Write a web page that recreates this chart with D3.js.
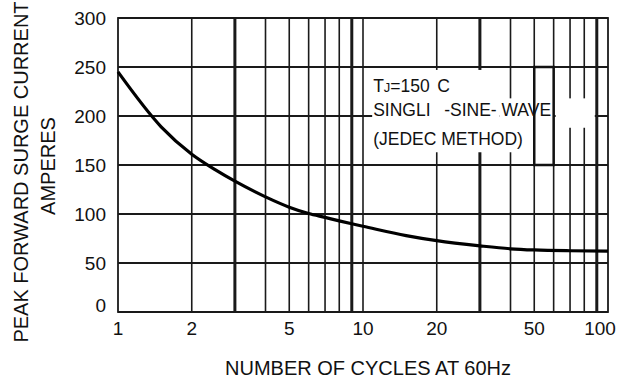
<!DOCTYPE html>
<html>
<head>
<meta charset="utf-8">
<script src="https://cdn.jsdelivr.net/npm/d3@7/dist/d3.min.js"></script>
<style>
body { margin: 0; background: #fff; }
text { font-family: "Liberation Sans", Arial, sans-serif; fill: #111; }
</style>
</head>
<body>
<div class="central"></div>
<script>
//Width and height of chart
var width = 629,
	height = 383;

//Curve (cycles -> peak amps)
var cycles = [1, 1.5, 2, 2.5, 3, 4, 5, 6, 7, 8, 9, 10, 15, 20, 30, 40, 50, 70, 100];
var surge = [245, 189, 161, 145, 133.5, 117.5, 107, 100.5, 96.5, 93, 90, 87.5, 78, 72.8, 67.5, 64.5, 63.3, 62.5, 62.2];

//Axis ticks and grid
var xTicks = [1, 2, 5, 10, 20, 50, 100];
var xGrid = [2, 3, 4, 5, 6, 7, 8, 9, 10, 20, 30, 40, 50, 60, 70, 80, 90];
var xHeavy = [3, 9, 30, 90];
var yTicks = [0, 50, 100, 150, 200, 250, 300];

var x = d3.scaleLog()
			.domain([1, 100])
			.range([118, 608]);

var y = d3.scaleLinear()
			.domain([0, 300])
			.range([312, 18]);

var svg = d3.select(".central")
			.append("svg")
			.attr("width", width)
			.attr("height", height);

//Grid lines
svg.selectAll(".hgrid")
	.data(yTicks)
	.enter()
	.append("line")
	.attr("class", "hgrid")
	.attr("x1", x(1))
	.attr("x2", x(100))
	.attr("y1", function(d){ return y(d); })
	.attr("y2", function(d){ return y(d); })
	.style("stroke", "#1a1a1a")
	.style("stroke-width", 1.8);

svg.selectAll(".vgrid")
	.data(xGrid)
	.enter()
	.append("line")
	.attr("class", "vgrid")
	.attr("x1", function(d){ return x(d); })
	.attr("x2", function(d){ return x(d); })
	.attr("y1", y(0))
	.attr("y2", y(300))
	.style("stroke", "#1a1a1a")
	.style("stroke-width", function(d){
		return xHeavy.indexOf(d) >= 0 ? 3 : 1.6;
	});

//Frame
svg.append("rect")
	.attr("x", x(1))
	.attr("y", y(300))
	.attr("width", x(100) - x(1))
	.attr("height", y(0) - y(300))
	.style("fill", "none")
	.style("stroke", "#1a1a1a")
	.style("stroke-width", 1.8);

//White patches behind the note (the scan erased the grid there)
svg.append("rect")
	.attr("x", x(10.9))
	.attr("y", y(247))
	.attr("width", x(36) - x(10.9))
	.attr("height", y(163) - y(247))
	.style("fill", "#fff");
svg.append("rect")
	.attr("x", x(36))
	.attr("y", y(218))
	.attr("width", x(50) - x(36) - 1)
	.attr("height", y(163) - y(218))
	.style("fill", "#fff");
svg.append("rect")
	.attr("x", x(60) + 2)
	.attr("y", y(218))
	.attr("width", x(90) - x(60) - 4)
	.attr("height", y(188) - y(218))
	.style("fill", "#fff");
svg.append("rect")
	.attr("x", x(50))
	.attr("y", y(250))
	.attr("width", x(60) - x(50))
	.attr("height", y(150) - y(250))
	.style("fill", "#fff")
	.style("stroke", "#111")
	.style("stroke-width", 2.5);

//Curve
var line = d3.line()
			.x(function(d){ return x(d[0]); })
			.y(function(d){ return y(d[1]); })
			.curve(d3.curveMonotoneX);

svg.append("path")
	.datum(d3.zip(cycles, surge))
	.attr("d", line)
	.style("fill", "none")
	.style("stroke", "#000")
	.style("stroke-width", 3.2);

//Tick labels
svg.selectAll(".xLabel")
	.data(xTicks)
	.enter()
	.append("text")
	.attr("class", "xLabel")
	.attr("x", function(d){ return x(d); })
	.attr("y", 335)
	.attr("text-anchor", "middle")
	.attr("dx", function(d){ return d == 100 ? "-8" : "0"; })
	.style("font-size", "19px")
	.text(function(d){ return d; });

svg.selectAll(".yLabel")
	.data(yTicks)
	.enter()
	.append("text")
	.attr("class", "yLabel")
	.attr("x", 106)
	.attr("y", function(d){ return y(d); })
	.attr("dy", function(d){ return d == 0 ? "0" : "0.35em"; })
	.attr("text-anchor", "end")
	.style("font-size", "19px")
	.text(function(d){ return d; });

//Axis titles
svg.append("text")
	.attr("x", 368)
	.attr("y", 375)
	.attr("text-anchor", "middle")
	.style("font-size", "20px")
	.text("NUMBER OF CYCLES AT 60Hz");

svg.append("text")
	.attr("transform", "translate(28,172) rotate(-90)")
	.attr("text-anchor", "middle")
	.style("font-size", "20px")
	.text("PEAK FORWARD SURGE CURRENT");

svg.append("text")
	.attr("transform", "translate(55,166) rotate(-90)")
	.attr("text-anchor", "middle")
	.style("font-size", "20px")
	.text("AMPERES");

//Note
var noteX = x(11);
var t1 = svg.append("text")
	.attr("x", noteX)
	.attr("y", y(225))
	.style("font-size", "17.5px");
t1.append("tspan").text("T");
t1.append("tspan").style("font-size", "13px").text("J");
t1.append("tspan").text("=150");
svg.append("text")
	.attr("x", noteX + 64)
	.attr("y", y(225))
	.style("font-size", "17.5px")
	.text("C");

svg.append("text")
	.attr("x", noteX)
	.attr("y", y(200))
	.style("font-size", "17.5px")
	.text("SINGLI");
svg.append("text")
	.attr("x", noteX + 71)
	.attr("y", y(200))
	.style("font-size", "17.5px")
	.text("-SINE- WAVE");

svg.append("text")
	.attr("x", noteX)
	.attr("y", y(170))
	.style("font-size", "17.5px")
	.text("(JEDEC METHOD)");
</script>
</body>
</html>
